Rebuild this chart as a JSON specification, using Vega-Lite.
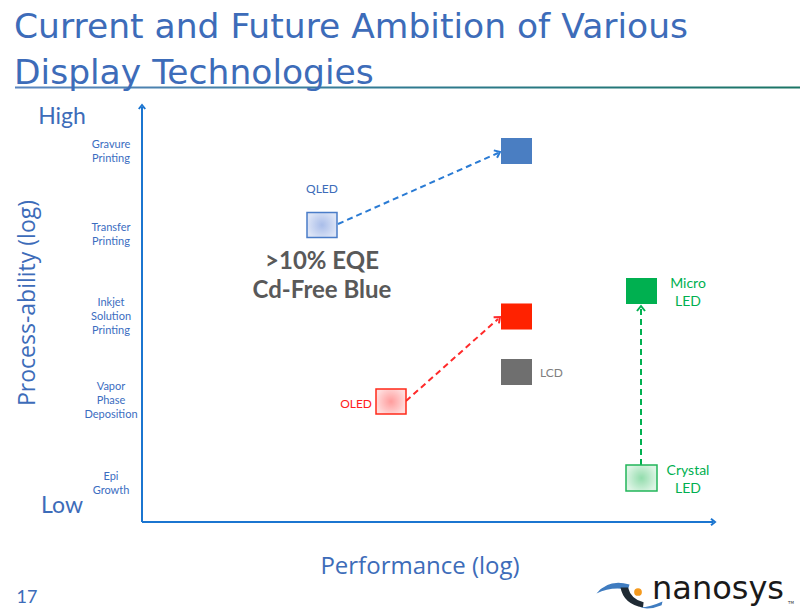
{
  "$schema": "https://vega.github.io/schema/vega-lite/v6.json",
  "width": 800,
  "height": 616,
  "autosize": {"type": "fit", "contains": "padding"},
  "padding": 0,
  "background": "white",
  "config": {"view": {"stroke": null}},
  "datasets": {
    "title": [
      {"x": 14, "y": 38, "t": "Current and Future Ambition of Various\nDisplay Technologies"}
    ],
    "underline": [{"x": 15, "x2": 800, "y": 86.5, "y2": 88.5}],
    "axes": [
      {"x": 142, "y": 522, "x2": 142, "y2": 107},
      {"x": 142, "y": 522, "x2": 713, "y2": 522}
    ],
    "yhead": [{"x": 142, "y": 105}],
    "xhead": [{"x": 715, "y": 522}],
    "ylabels": [
      {"x": 111, "y": 145, "t": "Gravure\nPrinting"},
      {"x": 111, "y": 228, "t": "Transfer\nPrinting"},
      {"x": 111, "y": 303, "t": "Inkjet\nSolution\nPrinting"},
      {"x": 111, "y": 387, "t": "Vapor\nPhase\nDeposition"},
      {"x": 111, "y": 477, "t": "Epi\nGrowth"}
    ],
    "big": [
      {"x": 62, "y": 117, "t": "High"},
      {"x": 62, "y": 506, "t": "Low"}
    ],
    "xtitle": [{"x": 420, "y": 567, "t": "Performance (log)"}],
    "ytitle": [{"x": 28, "y": 303, "t": "Process-ability (log)"}],
    "pagenum": [{"x": 27, "y": 598, "t": "17"}],
    "arrows": [
      {"tech": "QLED", "x": 338, "y": 224, "x2": 498, "y2": 153},
      {"tech": "OLED", "x": 406, "y": 401, "x2": 498, "y2": 319},
      {"tech": "LED", "x": 641, "y": 465, "x2": 641, "y2": 309}
    ],
    "headQ": [{"x": 500, "y": 152}],
    "headO": [{"x": 500, "y": 317}],
    "headM": [{"x": 641, "y": 306}],
    "solid": [
      {"tech": "QLED future", "x": 516.5, "y": 151},
      {"tech": "OLED future", "x": 516.5, "y": 316.5},
      {"tech": "LCD", "x": 516.5, "y": 372},
      {"tech": "Micro LED", "x": 641.5, "y": 291}
    ],
    "qled": [{"x": 322, "y": 225}],
    "oled": [{"x": 391, "y": 401.5}],
    "crystal": [{"x": 641.5, "y": 478}],
    "lblQ": [{"x": 322, "y": 189, "t": "QLED"}],
    "lblO": [{"x": 372, "y": 404, "t": "OLED"}],
    "lblL": [{"x": 540, "y": 373, "t": "LCD"}],
    "lblG": [
      {"x": 688, "y": 284, "t": "Micro\nLED"},
      {"x": 688, "y": 471, "t": "Crystal\nLED"}
    ],
    "eqe": [{"x": 322, "y": 262, "t": ">10% EQE\nCd-Free Blue"}],
    "logoText": [{"x": 652, "y": 599, "t": "nanosys"}],
    "tm": [{"x": 791, "y": 603, "t": "TM"}],
    "swoosh": [{"x": 625, "y": 592}],
    "dot": [{"x": 638, "y": 592}]
  },
  "layer": [
    {
      "data": {"name": "underline"},
      "mark": {"type": "rect", "fill": {"gradient": "linear", "x1": 0, "y1": 0, "x2": 1, "y2": 0, "stops": [{"offset": 0, "color": "#5a86c0"}, {"offset": 0.5, "color": "#2f7a90"}, {"offset": 1, "color": "#1b7565"}]}},
      "encoding": {
        "x": {"field": "x", "type": "quantitative", "scale": {"domain": [0, 800], "nice": false, "zero": false}, "axis": null},
        "x2": {"field": "x2"},
        "y": {"field": "y", "type": "quantitative", "scale": {"domain": [0, 616], "nice": false, "zero": false, "reverse": true}, "axis": null},
        "y2": {"field": "y2"}
      }
    },
    {
      "data": {"name": "title"},
      "mark": {"type": "text", "font": "DejaVu Sans", "fontSize": 34.5, "color": "#3d6cb9", "align": "left", "baseline": "alphabetic", "lineBreak": "\n", "lineHeight": 46},
      "encoding": {
        "x": {"field": "x", "type": "quantitative", "axis": null},
        "y": {"field": "y", "type": "quantitative", "axis": null},
        "text": {"field": "t"}
      }
    },
    {
      "data": {"name": "axes"},
      "mark": {"type": "rule", "color": "#1b75d0", "strokeWidth": 2},
      "encoding": {
        "x": {"field": "x", "type": "quantitative", "axis": null},
        "x2": {"field": "x2"},
        "y": {"field": "y", "type": "quantitative", "axis": null},
        "y2": {"field": "y2"}
      }
    },
    {
      "data": {"name": "yhead"},
      "mark": {"type": "point", "shape": "M-1,-0.8L0,0L-1,0.8", "size": 64, "angle": -90, "filled": false, "color": "#1b75d0", "strokeWidth": 2, "opacity": 1},
      "encoding": {
        "x": {"field": "x", "type": "quantitative", "axis": null},
        "y": {"field": "y", "type": "quantitative", "axis": null}
      }
    },
    {
      "data": {"name": "xhead"},
      "mark": {"type": "point", "shape": "M-1,-0.8L0,0L-1,0.8", "size": 64, "angle": 0, "filled": false, "color": "#1b75d0", "strokeWidth": 2, "opacity": 1},
      "encoding": {
        "x": {"field": "x", "type": "quantitative", "axis": null},
        "y": {"field": "y", "type": "quantitative", "axis": null}
      }
    },
    {
      "data": {"name": "arrows"},
      "mark": {"type": "rule", "strokeWidth": 2, "strokeDash": [6, 4]},
      "encoding": {
        "x": {"field": "x", "type": "quantitative", "axis": null},
        "x2": {"field": "x2"},
        "y": {"field": "y", "type": "quantitative", "axis": null},
        "y2": {"field": "y2"},
        "color": {"field": "tech", "type": "nominal", "scale": {"domain": ["QLED", "OLED", "LED"], "range": ["#2a7bd4", "#ff2a2a", "#00b050"]}, "legend": null}
      }
    },
    {
      "data": {"name": "headQ"},
      "mark": {"type": "point", "shape": "M-1,-0.8L0,0L-1,0.8", "size": 100, "angle": -24, "filled": false, "color": "#2a7bd4", "strokeWidth": 2, "opacity": 1},
      "encoding": {
        "x": {"field": "x", "type": "quantitative", "axis": null},
        "y": {"field": "y", "type": "quantitative", "axis": null}
      }
    },
    {
      "data": {"name": "headO"},
      "mark": {"type": "point", "shape": "M-1,-0.8L0,0L-1,0.8", "size": 100, "angle": -42, "filled": false, "color": "#ff2a2a", "strokeWidth": 2, "opacity": 1},
      "encoding": {
        "x": {"field": "x", "type": "quantitative", "axis": null},
        "y": {"field": "y", "type": "quantitative", "axis": null}
      }
    },
    {
      "data": {"name": "headM"},
      "mark": {"type": "point", "shape": "M-1,-0.8L0,0L-1,0.8", "size": 100, "angle": -90, "filled": false, "color": "#00b050", "strokeWidth": 2, "opacity": 1},
      "encoding": {
        "x": {"field": "x", "type": "quantitative", "axis": null},
        "y": {"field": "y", "type": "quantitative", "axis": null}
      }
    },
    {
      "data": {"name": "solid"},
      "mark": {"type": "point", "shape": "M-1,-0.84L1,-0.84L1,0.84L-1,0.84Z", "size": 961, "filled": true, "opacity": 1, "strokeWidth": 0},
      "encoding": {
        "x": {"field": "x", "type": "quantitative", "axis": null},
        "y": {"field": "y", "type": "quantitative", "axis": null},
        "fill": {"field": "tech", "type": "nominal", "scale": {"domain": ["QLED future", "OLED future", "LCD", "Micro LED"], "range": ["#4a7ec2", "#ff2200", "#6f6f6f", "#00b050"]}, "legend": null}
      }
    },
    {
      "data": {"name": "qled"},
      "mark": {"type": "point", "shape": "M-1,-0.84L1,-0.84L1,0.84L-1,0.84Z", "size": 900, "filled": true, "opacity": 1, "fill": {"gradient": "radial", "stops": [{"offset": 0, "color": "#a9bde9"}, {"offset": 1, "color": "#dce4f6"}]}, "stroke": "#4a7cc8", "strokeWidth": 1.5},
      "encoding": {
        "x": {"field": "x", "type": "quantitative", "axis": null},
        "y": {"field": "y", "type": "quantitative", "axis": null}
      }
    },
    {
      "data": {"name": "oled"},
      "mark": {"type": "point", "shape": "M-1,-0.84L1,-0.84L1,0.84L-1,0.84Z", "size": 900, "filled": true, "opacity": 1, "fill": {"gradient": "radial", "stops": [{"offset": 0, "color": "#ff9c9c"}, {"offset": 1, "color": "#ffdcdc"}]}, "stroke": "#ff2a1a", "strokeWidth": 1.5},
      "encoding": {
        "x": {"field": "x", "type": "quantitative", "axis": null},
        "y": {"field": "y", "type": "quantitative", "axis": null}
      }
    },
    {
      "data": {"name": "crystal"},
      "mark": {"type": "point", "shape": "M-1,-0.84L1,-0.84L1,0.84L-1,0.84Z", "size": 961, "filled": true, "opacity": 1, "fill": {"gradient": "radial", "stops": [{"offset": 0, "color": "#92dcac"}, {"offset": 1, "color": "#dcf4e4"}]}, "stroke": "#22b55a", "strokeWidth": 1.5},
      "encoding": {
        "x": {"field": "x", "type": "quantitative", "axis": null},
        "y": {"field": "y", "type": "quantitative", "axis": null}
      }
    },
    {
      "data": {"name": "ylabels"},
      "mark": {"type": "text", "font": "Lato", "fontSize": 11, "color": "#3b6dbf", "align": "center", "baseline": "middle", "lineBreak": "\n", "lineHeight": 14},
      "encoding": {
        "x": {"field": "x", "type": "quantitative", "axis": null},
        "y": {"field": "y", "type": "quantitative", "axis": null},
        "text": {"field": "t"}
      }
    },
    {
      "data": {"name": "big"},
      "mark": {"type": "text", "font": "Lato", "fontSize": 23, "color": "#3d6cb9", "align": "center", "baseline": "middle"},
      "encoding": {
        "x": {"field": "x", "type": "quantitative", "axis": null},
        "y": {"field": "y", "type": "quantitative", "axis": null},
        "text": {"field": "t"}
      }
    },
    {
      "data": {"name": "xtitle"},
      "mark": {"type": "text", "font": "Open Sans", "fontSize": 24, "color": "#3d6cb9", "align": "center", "baseline": "middle"},
      "encoding": {
        "x": {"field": "x", "type": "quantitative", "axis": null},
        "y": {"field": "y", "type": "quantitative", "axis": null},
        "text": {"field": "t"}
      }
    },
    {
      "data": {"name": "ytitle"},
      "mark": {"type": "text", "font": "Open Sans", "fontSize": 23, "color": "#3d6cb9", "align": "center", "baseline": "middle", "angle": 270},
      "encoding": {
        "x": {"field": "x", "type": "quantitative", "axis": null},
        "y": {"field": "y", "type": "quantitative", "axis": null},
        "text": {"field": "t"}
      }
    },
    {
      "data": {"name": "pagenum"},
      "mark": {"type": "text", "font": "Lato", "fontSize": 18, "color": "#3d6cb9", "align": "center", "baseline": "middle"},
      "encoding": {
        "x": {"field": "x", "type": "quantitative", "axis": null},
        "y": {"field": "y", "type": "quantitative", "axis": null},
        "text": {"field": "t"}
      }
    },
    {
      "data": {"name": "lblQ"},
      "mark": {"type": "text", "font": "Lato", "fontSize": 12, "color": "#3d6cb9", "align": "center", "baseline": "middle"},
      "encoding": {
        "x": {"field": "x", "type": "quantitative", "axis": null},
        "y": {"field": "y", "type": "quantitative", "axis": null},
        "text": {"field": "t"}
      }
    },
    {
      "data": {"name": "lblO"},
      "mark": {"type": "text", "font": "Lato", "fontSize": 12, "color": "#ff2020", "align": "right", "baseline": "middle"},
      "encoding": {
        "x": {"field": "x", "type": "quantitative", "axis": null},
        "y": {"field": "y", "type": "quantitative", "axis": null},
        "text": {"field": "t"}
      }
    },
    {
      "data": {"name": "lblL"},
      "mark": {"type": "text", "font": "Lato", "fontSize": 12, "color": "#808080", "align": "left", "baseline": "middle"},
      "encoding": {
        "x": {"field": "x", "type": "quantitative", "axis": null},
        "y": {"field": "y", "type": "quantitative", "axis": null},
        "text": {"field": "t"}
      }
    },
    {
      "data": {"name": "lblG"},
      "mark": {"type": "text", "font": "Lato", "fontSize": 14, "color": "#00b050", "align": "center", "baseline": "middle", "lineBreak": "\n", "lineHeight": 18},
      "encoding": {
        "x": {"field": "x", "type": "quantitative", "axis": null},
        "y": {"field": "y", "type": "quantitative", "axis": null},
        "text": {"field": "t"}
      }
    },
    {
      "data": {"name": "eqe"},
      "mark": {"type": "text", "font": "Lato", "fontSize": 24, "fontWeight": "bold", "color": "#595959", "align": "center", "baseline": "middle", "lineBreak": "\n", "lineHeight": 29},
      "encoding": {
        "x": {"field": "x", "type": "quantitative", "axis": null},
        "y": {"field": "y", "type": "quantitative", "axis": null},
        "text": {"field": "t"}
      }
    },
    {
      "data": {"name": "swoosh"},
      "mark": {"type": "point", "shape": "M-0.95,0.05Q-0.55,-0.45 0.15,-0.25L0.1,-0.08Q-0.45,-0.2 -0.95,0.05Z", "size": 3600, "filled": true, "opacity": 1, "color": "#3f7cc0", "strokeWidth": 0},
      "encoding": {
        "x": {"field": "x", "type": "quantitative", "axis": null},
        "y": {"field": "y", "type": "quantitative", "axis": null}
      }
    },
    {
      "data": {"name": "swoosh"},
      "mark": {"type": "point", "shape": "M-0.15,-0.15Q-0.05,0.4 0.6,0.52L0.62,0.34Q0.2,0.25 0.1,-0.15Z", "size": 3600, "filled": true, "opacity": 1, "color": "#1f2a33", "strokeWidth": 0},
      "encoding": {
        "x": {"field": "x", "type": "quantitative", "axis": null},
        "y": {"field": "y", "type": "quantitative", "axis": null}
      }
    },
    {
      "data": {"name": "swoosh"},
      "mark": {"type": "point", "shape": "M0.5,0.52Q0.85,0.5 1.25,0.32L1.22,0.44Q0.85,0.6 0.5,0.52Z", "size": 3600, "filled": true, "opacity": 1, "color": "#3f7cc0", "strokeWidth": 0},
      "encoding": {
        "x": {"field": "x", "type": "quantitative", "axis": null},
        "y": {"field": "y", "type": "quantitative", "axis": null}
      }
    },
    {
      "data": {"name": "dot"},
      "mark": {"type": "point", "shape": "circle", "size": 60, "filled": true, "opacity": 1, "color": "#f59a1e", "strokeWidth": 0},
      "encoding": {
        "x": {"field": "x", "type": "quantitative", "axis": null},
        "y": {"field": "y", "type": "quantitative", "axis": null}
      }
    },
    {
      "data": {"name": "logoText"},
      "mark": {"type": "text", "font": "DejaVu Sans", "fontSize": 32, "color": "#1a1a1a", "align": "left", "baseline": "alphabetic"},
      "encoding": {
        "x": {"field": "x", "type": "quantitative", "axis": null},
        "y": {"field": "y", "type": "quantitative", "axis": null},
        "text": {"field": "t"}
      }
    },
    {
      "data": {"name": "tm"},
      "mark": {"type": "text", "font": "DejaVu Sans", "fontSize": 4, "color": "#333333", "align": "center", "baseline": "middle"},
      "encoding": {
        "x": {"field": "x", "type": "quantitative", "axis": null},
        "y": {"field": "y", "type": "quantitative", "axis": null},
        "text": {"field": "t"}
      }
    }
  ]
}
